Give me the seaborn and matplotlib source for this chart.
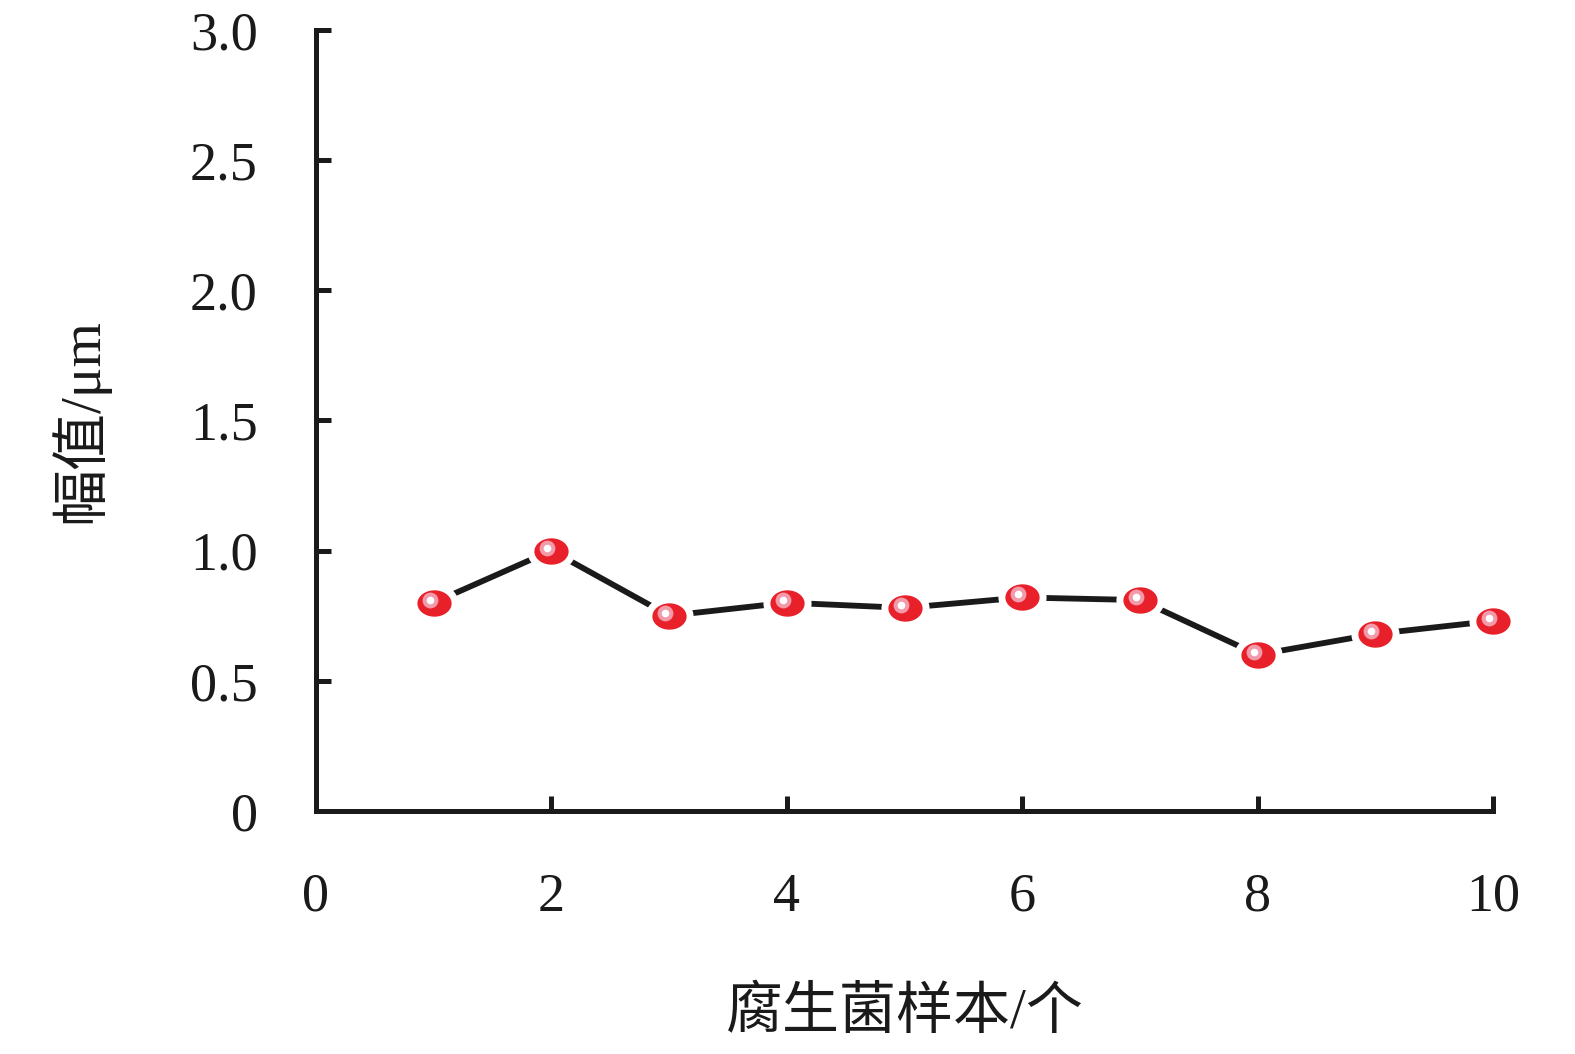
import numpy as np
import pandas as pd
import seaborn as sns
import matplotlib
matplotlib.use("Agg")
import matplotlib.pyplot as plt
from matplotlib.path import Path
from matplotlib.transforms import offset_copy

# data
samples = [1, 2, 3, 4, 5, 6, 7, 8, 9, 10]
amplitude = [0.80, 1.00, 0.75, 0.80, 0.78, 0.82, 0.81, 0.60, 0.68, 0.73]
x_ticks = [0, 2, 4, 6, 8, 10]
y_ticks = [0, 0.5, 1.0, 1.5, 2.0, 2.5, 3.0]
y_tick_labels = ["0", "0.5", "1.0", "1.5", "2.0", "2.5", "3.0"]
x_label = "腐生菌样本/个"
y_label = "幅值/μm"

df = pd.DataFrame({"sample": samples, "amp": amplitude})

sns.set_theme(style="white")
plt.rcParams['font.family'] = ['Liberation Serif', 'Noto Sans CJK SC']

fig = plt.figure(figsize=(15.75, 10.54), dpi=100)
ax = fig.add_axes([0.2006, 0.2306, 0.7474, 0.741])

# line between the points
sns.lineplot(data=df, x="sample", y="amp", ax=ax, color="#1a1a1a",
             linewidth=4.2, zorder=2)

# ellipse-shaped marker
t = np.linspace(0, 2 * np.pi, 60)
ell = Path(np.column_stack([0.68 * np.cos(t), 0.55 * np.sin(t)]), closed=True)

ax.scatter(samples, amplitude, marker=ell, s=880, color="#e8202a",
           edgecolor="white", linewidth=5, zorder=3, clip_on=False)
# shiny highlight
hl = offset_copy(ax.transData, fig=fig, x=-4, y=3, units='dots')
ax.scatter(samples, amplitude, marker="o", s=130, color="#f29aaa",
           linewidth=0, transform=hl, zorder=4, clip_on=False)
ax.scatter(samples, amplitude, marker="o", s=30, color="white",
           linewidth=0, transform=hl, zorder=5, clip_on=False)

ax.set_xlim(0, 10)
ax.set_ylim(0, 3.0)
ax.set_xticks(x_ticks)
ax.set_yticks(y_ticks)
ax.set_yticklabels(y_tick_labels)

for s in ["top", "right"]:
    ax.spines[s].set_visible(False)
for s in ["left", "bottom"]:
    ax.spines[s].set_color("#1a1a1a")
    ax.spines[s].set_linewidth(3.6)

ax.tick_params(axis="both", direction="in", length=11, width=3.6,
               bottom=True, left=True,
               color="#1a1a1a", labelsize=39, labelcolor="#1a1a1a")
ax.tick_params(axis="y", pad=42)
ax.tick_params(axis="x", pad=44)

ax.set_xlabel(x_label, fontsize=41, labelpad=46, color="#1a1a1a")
ax.set_ylabel(y_label, fontsize=41, labelpad=58, color="#1a1a1a")

fig.savefig("out.png", dpi=100, facecolor="white")
